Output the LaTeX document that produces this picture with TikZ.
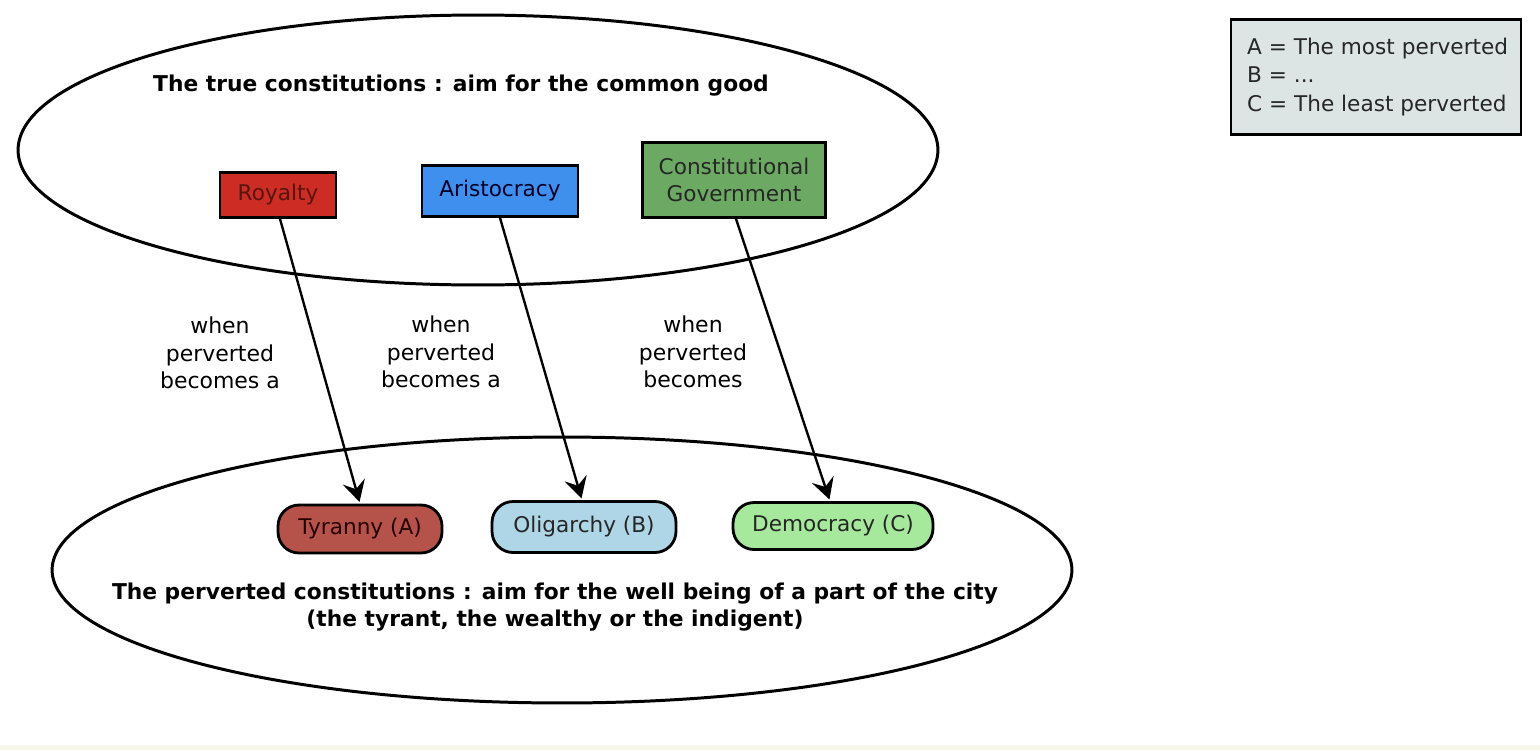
\documentclass[tikz,border=0pt]{standalone}
\usepackage{fontspec}
\setmainfont{DejaVu Sans}
\usetikzlibrary{shapes.geometric,arrows.meta}
\definecolor{royred}{HTML}{CC2C24}
\definecolor{royink}{HTML}{5A1410}
\definecolor{aristblue}{HTML}{3F90EE}
\definecolor{constgreen}{HTML}{6CAA64}
\definecolor{tyrred}{HTML}{B5524A}
\definecolor{oliblue}{HTML}{AED6E6}
\definecolor{demgreen}{HTML}{A6E89C}
\definecolor{legfill}{HTML}{DCE4E4}
\definecolor{strip}{HTML}{F6F6EA}
\tikzset{
  realm/.style={draw=black, line width=1.7pt, ellipse, inner sep=0pt},
  truebox/.style={draw=black, line width=1.6pt, inner sep=0pt, align=center, font=\fontsize{12.3}{15.5}\selectfont},
  pervbox/.style={draw=black, line width=1.6pt, inner sep=0pt, rounded corners=0.42cm, align=center, font=\fontsize{12.3}{15}\selectfont},
  turnlabel/.style={align=center, font=\fontsize{12.5}{15.8}\selectfont},
  headline/.style={align=center, font=\bfseries\fontsize{12.4}{15.8}\selectfont},
  turnarrow/.style={line width=1.35pt, -{Stealth[length=12pt,width=13pt,inset=4.5pt]}, shorten >=1pt},
}
\begin{document}
\begin{tikzpicture}[x=0.02cm, y=-0.02cm]
\useasboundingbox (0,0) rectangle (1540,750);
\fill[strip] (0,745) rectangle (1540,750);

% ellipses
\node[realm, minimum width=18.4cm, minimum height=5.4cm] (top) at (478,150) {};
\node[realm, minimum width=20.4cm, minimum height=5.32cm] (bot) at (562,570) {};

% headings
\node[headline] (toptitle) at (461,86) {The true constitutions : aim for the common good};
\node[headline] (bottitle) at (555,607) {The perverted constitutions : aim for the well being of a part of the city\\(the tyrant, the wealthy or the indigent)};

% true constitutions
\node[truebox, fill=royred, text=royink, minimum width=2.32cm, minimum height=0.9cm] (roy) at (278,195) {Royalty};
\node[truebox, fill=aristblue, text=black!85!blue, minimum width=3.12cm, minimum height=1.02cm] (ari) at (500,191) {Aristocracy};
\node[truebox, fill=constgreen, text=black!85, minimum width=3.66cm, minimum height=1.5cm] (con) at (734,180) {Constitutional\\Government};

% perverted constitutions
\node[pervbox, fill=tyrred, text=black!85!red, minimum width=3.28cm, minimum height=0.96cm] (tyr) at (360,529) {Tyranny (A)};
\node[pervbox, fill=oliblue, text=black!85, minimum width=3.68cm, minimum height=1.02cm] (oli) at (584,527) {Oligarchy (B)};
\node[pervbox, fill=demgreen, text=black!85, minimum width=4.0cm, minimum height=0.94cm] (dem) at (833,526) {Democracy (C)};

% arrows
\draw[turnarrow] ([xshift=0.04cm]roy.south) -- (tyr.north);
\draw[turnarrow] (ari.south) -- ([xshift=-0.04cm]oli.north);
\draw[turnarrow] ([xshift=0.04cm]con.south) -- ([xshift=-0.06cm]dem.north);

% labels
\node[turnlabel] (l1) at (220,353) {when\\perverted\\becomes a};
\node[turnlabel] (l2) at (441,352) {when\\perverted\\becomes a};
\node[turnlabel] (l3) at (693,352) {when\\perverted\\becomes};

% legend
\node[draw=black, line width=1.6pt, fill=legfill, minimum width=5.8cm, minimum height=2.3cm, inner sep=0pt] (leg) at (1376,77) {};
\node[anchor=west, align=left, font=\fontsize{12.3}{16.2}\selectfont, text=black!85] (legtext) at (1241,77) {A = The most perverted\\B = ...\\C = The least perverted};
\end{tikzpicture}
\end{document}
